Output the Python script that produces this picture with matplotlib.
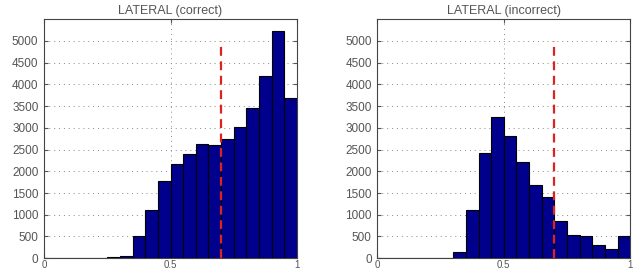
import numpy as np
import matplotlib
matplotlib.use("Agg")
import matplotlib.pyplot as plt

plt.rcParams["font.family"] = ["Liberation Sans", "DejaVu Sans"]

bin_edges = [round(0.05 * i, 2) for i in range(21)]
counts_correct = [0, 0, 0, 0, 0, 20, 60, 505, 1105, 1785, 2170, 2405, 2620, 2605, 2735,
                  3010, 3450, 4185, 5230, 3680]
counts_incorrect = [0, 0, 0, 0, 0, 15, 140, 1100, 2420, 3240, 2800, 2215, 1695, 1400, 860,
                    525, 510, 310, 210, 510]
titles = ["LATERAL (correct)", "LATERAL (incorrect)"]
threshold = 0.7
threshold_top = 5000
yticks = list(range(0, 5001, 500))
xticks = [0, 0.5, 1]
xticklabels = ["0", "0.5", "1"]

fig = plt.figure(figsize=(6.37, 2.69), dpi=100)
positions = [[0.0691, 0.040, 0.3972, 0.889], [0.5923, 0.040, 0.3972, 0.889]]
textc = "#555555"
for pos, counts, title in zip(positions, [counts_correct, counts_incorrect], titles):
    ax = fig.add_axes(pos)
    ax.set_axisbelow(True)
    ax.grid(True, linestyle=(0, (1, 4)), color="#888888", linewidth=0.7)
    ax.bar(bin_edges[:-1], counts, width=0.05, align="edge", color="#00008C",
           edgecolor="black", linewidth=0.8)
    ax.plot([threshold, threshold], [0, threshold_top], color="#dd2222",
            linestyle=(0, (4, 2.5)), linewidth=1.6)
    ax.set_xlim(0, 1)
    ax.set_ylim(0, 5500)
    ax.set_yticks(yticks)
    ax.set_xticks(xticks)
    ax.set_xticklabels(xticklabels)
    ax.tick_params(direction="in", length=3, labelsize=8.5, colors=textc,
                   top=True, right=True)
    ax.tick_params(axis="x", pad=1, labelsize=7)
    ax.tick_params(axis="y", pad=4)
    for s in ax.spines.values():
        s.set_color("#444444")
        s.set_linewidth(0.8)
    ax.set_title(title, fontsize=9, color=textc, pad=4)

fig.savefig("out.png", dpi=100)
